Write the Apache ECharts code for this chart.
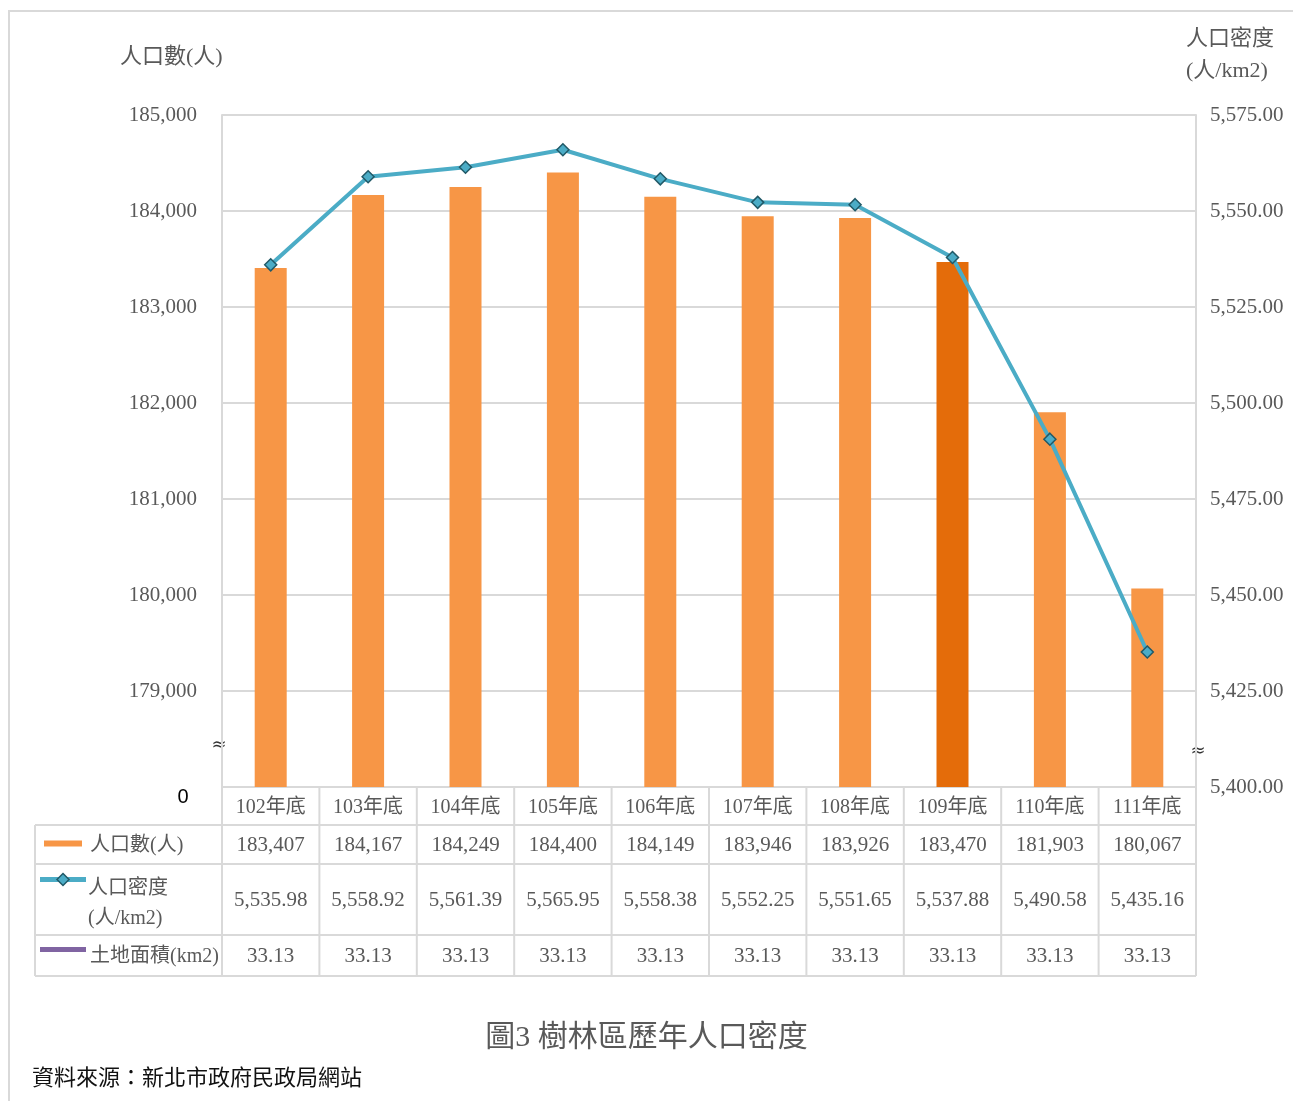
<!DOCTYPE html>
<html><head><meta charset="utf-8">
<script src="https://cdn.jsdelivr.net/npm/echarts@6/dist/echarts.min.js"></script>
<style>html,body{margin:0;padding:0;background:#fff}#c{width:1293px;height:1101px}</style>
</head><body><div id="c"></div>
<script>
// ---- data ----
const categories = ['102年底','103年底','104年底','105年底','106年底','107年底','108年底','109年底','110年底','111年底'];
const population = [183407,184167,184249,184400,184149,183946,183926,183470,181903,180067];
const density = [5535.98,5558.92,5561.39,5565.95,5558.38,5552.25,5551.65,5537.88,5490.58,5435.16];
const landArea = [33.13,33.13,33.13,33.13,33.13,33.13,33.13,33.13,33.13,33.13];
const highlightCategory = '109年底';
const popAxisRange = [178000, 185000, 1000];
const densityAxisRange = [5400, 5575, 25];
const seriesNames = ['人口數(人)', '人口密度\n(人/km2)', '土地面積(km2)'];
const leftAxisTitle = '人口數(人)';
const rightAxisTitle = '人口密度\n(人/km2)';
const chartTitle = '圖3 樹林區歷年人口密度';
const sourceText = '資料來源：新北市政府民政局網站';

// ---- style ----
const SERIF = "'Liberation Serif', 'Noto Sans CJK TC', serif";
const GRAY = '#595959';
const LINE = '#D9D9D9';
const ORANGE = '#F79646', ORANGE_DARK = '#E46C0A', AQUA = '#4BACC6', PURPLE = '#8064A2';

const fmtInt = v => v.toLocaleString('en-US');
const fmt2 = v => v.toLocaleString('en-US', {minimumFractionDigits: 2, maximumFractionDigits: 2});

const chart = echarts.init(document.getElementById('c'));
const option = {
  animation: false,
  backgroundColor: '#fff',
  title: [
    {text: chartTitle, left: 'center', top: 1018, textStyle: {fontFamily: SERIF, fontSize: 30, fontWeight: 'normal', color: GRAY}},
    {text: sourceText, left: 27, top: 1063, textStyle: {fontFamily: SERIF, fontSize: 22, fontWeight: 'normal', color: '#111'}}
  ],
  grid: {left: 222, top: 115, width: 974, height: 672},
  xAxis: {
    type: 'category', data: categories,
    axisLine: {show: true, lineStyle: {color: LINE, width: 2}},
    axisTick: {show: false},
    axisLabel: {margin: 11, fontFamily: SERIF, fontSize: 20, color: GRAY}
  },
  yAxis: [
    {
      type: 'value', min: popAxisRange[0], max: popAxisRange[1], interval: popAxisRange[2],
      axisLine: {show: true, lineStyle: {color: LINE, width: 2}},
      axisTick: {show: false},
      splitLine: {lineStyle: {color: LINE, width: 2}},
      axisLabel: {margin: 25, fontFamily: SERIF, fontSize: 21, color: GRAY, padding: [4, 0, 0, 0],
        formatter: v => v === popAxisRange[0] ? '' : fmtInt(v)}
    },
    {
      type: 'value', min: densityAxisRange[0], max: densityAxisRange[1], interval: densityAxisRange[2],
      axisLine: {show: true, lineStyle: {color: LINE, width: 2}},
      axisTick: {show: false},
      splitLine: {show: false},
      axisLabel: {margin: 14, fontFamily: SERIF, fontSize: 21, color: GRAY, padding: [4, 0, 0, 0], formatter: v => fmt2(v)}
    }
  ],
  series: [
    {
      name: seriesNames[0], type: 'bar', barWidth: 32, yAxisIndex: 0,
      data: population.map((v, i) => ({value: v, itemStyle: {color: categories[i] === highlightCategory ? ORANGE_DARK : ORANGE}})),
      z: 2
    },
    {
      name: seriesNames[1], type: 'line', yAxisIndex: 1, data: density,
      symbol: 'diamond', symbolSize: 12,
      lineStyle: {color: AQUA, width: 4},
      itemStyle: {color: AQUA, borderColor: '#215967', borderWidth: 1.5},
      z: 5
    }
  ]
};
chart.setOption(option);

// ---- data table under the plot, positioned from the axis scales ----
const c0 = chart.convertToPixel({xAxisIndex: 0}, 0);
const c1 = chart.convertToPixel({xAxisIndex: 0}, 1);
const band = c1 - c0;
const xStart = c0 - band / 2;
const xEnd = xStart + categories.length * band;
const yBase = chart.convertToPixel({yAxisIndex: 0}, popAxisRange[0]);
const rowH = [38, 39, 71, 41];
const rowEdges = [yBase];
rowH.forEach(h => rowEdges.push(rowEdges[rowEdges.length - 1] + h));
const tableLeft = 35;

const els = [];
const lineEl = (x1, y1, x2, y2) => ({type: 'line', shape: {x1, y1, x2, y2}, style: {stroke: LINE, lineWidth: 2}, silent: true});
// outer frame
els.push({type: 'rect', shape: {x: 9, y: 11, width: 1400, height: 1200}, style: {fill: null, stroke: LINE, lineWidth: 2}, silent: true});
for (let r = 1; r < rowEdges.length; r++) els.push(lineEl(tableLeft, rowEdges[r], xEnd, rowEdges[r]));
els.push(lineEl(tableLeft, rowEdges[1], tableLeft, rowEdges[4]));
for (let i = 0; i <= categories.length; i++) els.push(lineEl(xStart + i * band, yBase, xStart + i * band, rowEdges[4]));

const cellText = (x, y, t) => ({type: 'text', x, y, style: {text: t, fontFamily: SERIF, fontSize: 21, fill: GRAY, align: 'center', verticalAlign: 'middle'}, silent: true});
const rows = [population.map(fmtInt), density.map(fmt2), landArea.map(v => v.toFixed(2))];
rows.forEach((vals, r) => {
  const yc = (rowEdges[r + 1] + rowEdges[r + 2]) / 2 + 1;
  vals.forEach((t, i) => els.push(cellText(c0 + i * band, yc, t)));
});
// legend keys + row labels
const y1 = (rowEdges[1] + rowEdges[2]) / 2, y2 = (rowEdges[2] + rowEdges[3]) / 2, y3 = (rowEdges[3] + rowEdges[4]) / 2;
els.push({type: 'rect', shape: {x: 44, y: y1 - 4, width: 38, height: 6}, style: {fill: ORANGE}, silent: true});
els.push({type: 'line', shape: {x1: 40, y1: y2 - 20, x2: 86, y2: y2 - 20}, style: {stroke: AQUA, lineWidth: 5}, silent: true});
els.push({type: 'polygon', shape: {points: [[63, y2 - 26], [69, y2 - 20], [63, y2 - 14], [57, y2 - 20]]}, style: {fill: AQUA, stroke: '#215967', lineWidth: 1.5}, silent: true});
els.push({type: 'line', shape: {x1: 40, y1: y3 - 6, x2: 86, y2: y3 - 6}, style: {stroke: PURPLE, lineWidth: 5}, silent: true});
const labelText = (x, y, t, extra) => ({type: 'text', x, y, style: Object.assign({text: t, fontFamily: SERIF, fontSize: 20, fill: GRAY, align: 'left', verticalAlign: 'middle', lineHeight: 30}, extra || {}), silent: true});
els.push(labelText(90, y1 + 1, seriesNames[0]));
els.push(labelText(88, y2 + 4, seriesNames[1]));
els.push(labelText(90, y3 + 1, seriesNames[2]));
// axis titles, zero label and break marks
els.push(labelText(120, 57, leftAxisTitle, {fontSize: 22}));
els.push(labelText(1186, 55, rightAxisTitle, {fontSize: 22, lineHeight: 32}));
els.push({type: 'text', x: 183, y: yBase + 10, style: {text: '0', fontFamily: "'Liberation Sans', Arial, sans-serif", fontSize: 20, fill: '#000', align: 'center', verticalAlign: 'middle'}, silent: true});
const breakStyle = {text: '≈', fontFamily: "'DejaVu Sans', sans-serif", fontSize: 18, fill: '#333', align: 'center', verticalAlign: 'middle'};
els.push({type: 'text', x: xStart - 3, y: yBase - 42, style: Object.assign({}, breakStyle), silent: true});
els.push({type: 'text', x: xEnd + 2, y: yBase - 36, style: Object.assign({}, breakStyle), silent: true});

chart.setOption({graphic: {elements: els}});
</script>
</body></html>
